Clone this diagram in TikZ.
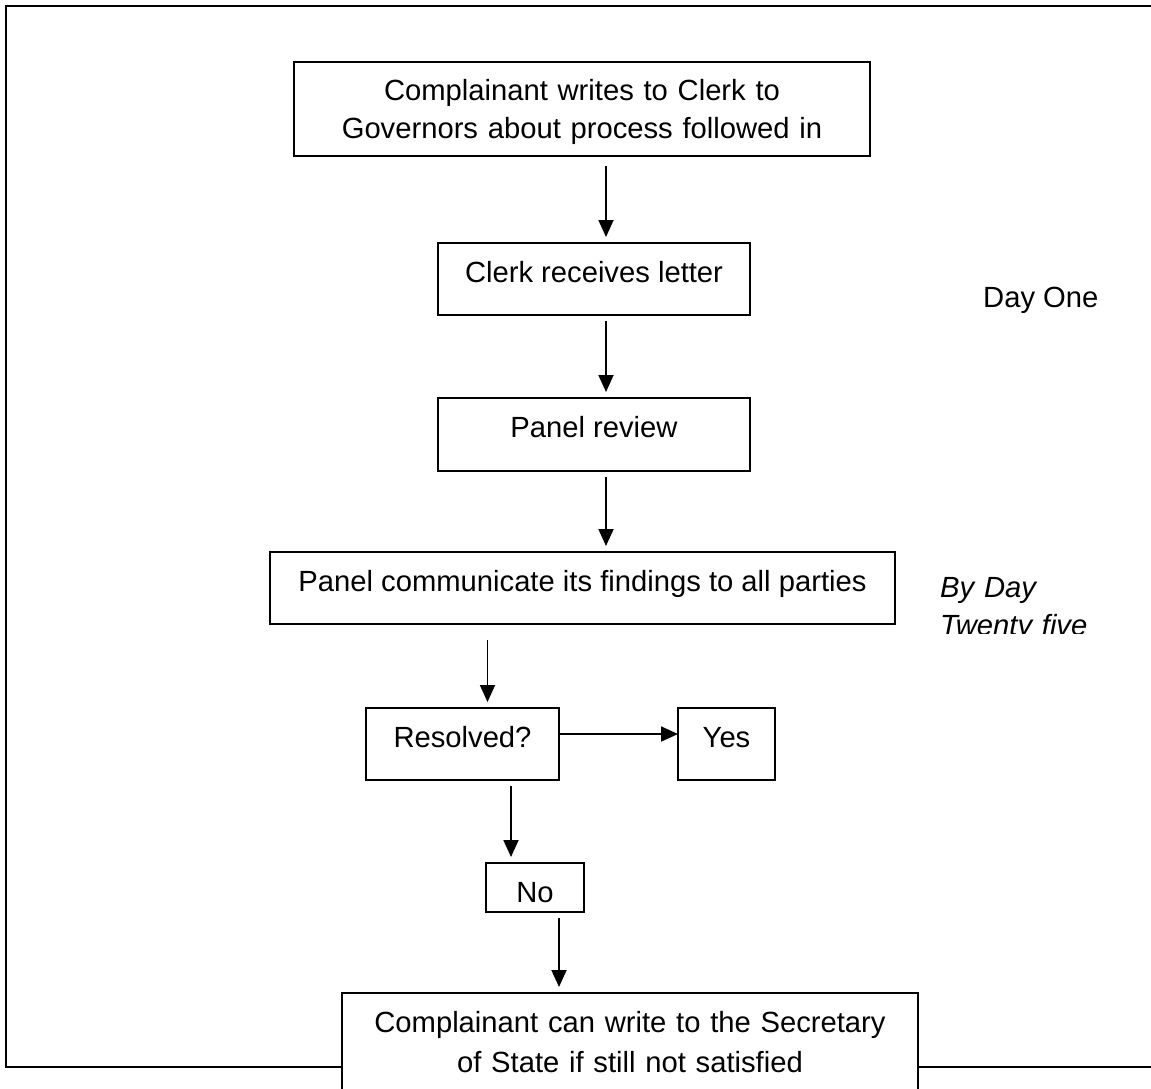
\documentclass[tikz,border=0pt]{standalone}
\usepackage{fontspec}
\setmainfont{Liberation Sans}
\usetikzlibrary{arrows.meta}

\newcommand\flowfont{\fontsize{29.2}{38}\selectfont}

\tikzset{
    stepbox/.style={draw, line width=2.2pt, fill=white, anchor=north west,
        inner xsep=0pt, inner ysep=0pt, outer sep=0pt, align=center,
        text height=39pt, text depth=33pt},
    flow/.style={line width=1.8pt, -{Triangle[length=17pt,width=15pt]},
        shorten <=6pt, shorten >=6pt},
}

\begin{document}
\begin{tikzpicture}[x=1pt, y=-1pt, font=\flowfont]
            \useasboundingbox (0,0) rectangle (1151,1088);
            \clip (0,0) rectangle (1151,1088);
            \draw[line width=2.6pt] (6,6) rectangle (1170,1067);
            \node[stepbox, text width=576pt, text height=38pt, text depth=56pt] (letter) at (294,62) {Complainant writes to Clerk to\\Governors about process followed in};
            \node[stepbox, minimum width=312pt] (clerk) at (438,243) {Clerk receives letter};
            \node[stepbox, minimum width=312pt, text depth=34pt] (review) at (438,398) {Panel review};
            \node[stepbox, minimum width=625pt] (findings) at (270,552) {Panel communicate its findings to all parties};
            \node[stepbox, minimum width=193pt] (resolved) at (366,708) {Resolved?};
            \node[stepbox, minimum width=97pt] (yes) at (678,708) {Yes};
            \node[stepbox, minimum width=98pt, text depth=10pt] (no) at (486,863) {No};
            \node[stepbox, text width=576pt, text depth=140pt, font=\fontsize{29.2}{40}\selectfont] (final) at (342,993) {Complainant can write to the Secretary\\of State if still not satisfied};
            \node[anchor=base west, inner sep=0pt] (dayone) at (983,307) {Day One};
            \begin{scope}
                \clip (900,560) rectangle (1151,633);
                \node[anchor=base west, inner sep=0pt, text width=200pt, align=left, font=\flowfont\itshape] (byday) at (940,597) {By Day\\Twenty five};
            \end{scope}
            \draw[flow, shorten <=10pt] ([xshift=12pt]clerk.north |- letter.south) -- ([xshift=12pt]clerk.north);
            \draw[flow] ([xshift=12pt]clerk.south) -- ([xshift=12pt]review.north);
            \draw[flow] ([xshift=12pt]review.south) -- ([xshift=12pt]review.south |- findings.north);
            \draw[flow, shorten <=16pt] ([xshift=25pt]resolved.north |- findings.south) -- ([xshift=25pt]resolved.north);
            \draw[flow, shorten <=0pt, shorten >=0pt] ([yshift=10pt]resolved.east) -- ([yshift=10pt]resolved.east -| yes.west);
            \draw[flow] ([xshift=-24pt]no.north |- resolved.south) -- ([xshift=-24pt]no.north);
            \draw[flow] ([xshift=24pt]no.south) -- ([xshift=24pt]no.south |- final.north);
        \end{tikzpicture}
\end{document}
